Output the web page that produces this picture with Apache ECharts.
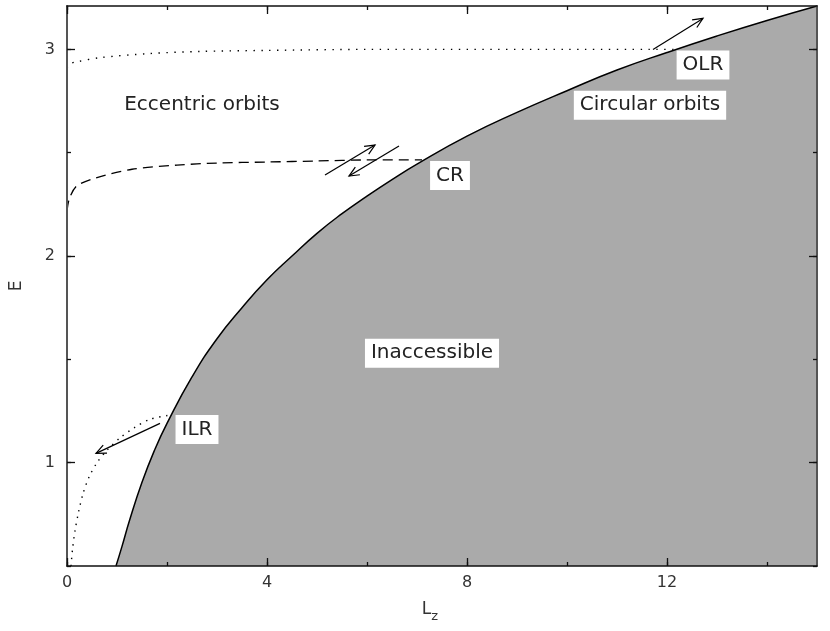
<!DOCTYPE html>
<html>
<head>
<meta charset="utf-8">
<script src="https://cdn.jsdelivr.net/npm/echarts@6/dist/echarts.min.js"></script>
<style>
html,body{margin:0;padding:0;background:#fff;}
#main{width:830px;height:631px;}
</style>
</head>
<body>
<div id="main"></div>
<script>
// circular-orbit curve E_c(Lz)
var circLz = [0.98, 1.1, 1.25, 1.5, 1.75, 2.0, 2.5, 3, 3.5, 4, 4.5, 5, 5.5, 6, 6.5, 7, 8, 9, 10, 11, 12, 13, 14, 15];
var circE  = [0.5, 0.595, 0.72, 0.905, 1.06, 1.19, 1.415, 1.6, 1.75, 1.885, 2.0, 2.11, 2.205, 2.29, 2.37, 2.445, 2.58, 2.695, 2.8, 2.9, 2.985, 3.065, 3.14, 3.21];

// resonance tracks
var ilrLz = [0.08, 0.11, 0.16, 0.23, 0.32, 0.44, 0.6, 0.8, 1.06, 1.35, 1.66, 2.06];
var ilrE  = [0.5, 0.58, 0.67, 0.76, 0.85, 0.93, 1.0, 1.06, 1.12, 1.17, 1.21, 1.23];
var crLz  = [0, 0.05, 0.2, 0.6, 1.3, 2.2, 3, 4, 5, 6, 7.1];
var crE   = [2.22, 2.28, 2.34, 2.38, 2.42, 2.44, 2.45, 2.455, 2.46, 2.465, 2.465];
var olrLz = [0, 0.05, 0.2, 0.66, 1.66, 2.66, 4, 6, 8, 10, 12.2];
var olrE  = [2.91, 2.93, 2.94, 2.96, 2.98, 2.99, 2.995, 3.0, 3.0, 3.0, 3.0];

// arrows: [Lz from, E from, Lz to, E to]
var arrows = [
  [1.86, 1.19, 0.58, 1.045],
  [5.16, 2.392, 6.16, 2.537],
  [6.64, 2.532, 5.64, 2.387],
  [11.72, 3.0, 12.72, 3.15]
];

// text labels
var labelNames = ['Eccentric orbits', 'Circular orbits', 'OLR', 'CR', 'ILR', 'Inaccessible'];
var labelLz    = [2.7, 11.66, 12.72, 7.66, 2.6, 7.3];
var labelE     = [2.73, 2.73, 2.925, 2.39, 1.16, 1.53];
var labelBox   = [false, true, true, true, true, true];

// ticks
var xTicks  = [0, 2, 4, 6, 8, 10, 12, 14];
var xLabels = [0, 4, 8, 12];
var yTicks  = [0.5, 1, 1.5, 2, 2.5, 3];
var yLabels = [1, 2, 3];

var xMin = 0, xMax = 15, yMin = 0.5, yMax = 3.21;
var FONT = 'DejaVu Sans';

function pairs(a, b) {
  var out = [];
  for (var i = 0; i < a.length; i++) out.push([a[i], b[i]]);
  return out;
}

function renderArrow(params, api) {
  var p1 = api.coord([api.value(0), api.value(1)]);
  var p2 = api.coord([api.value(2), api.value(3)]);
  var ang = Math.atan2(p2[1] - p1[1], p2[0] - p1[0]);
  var h = 11, a = 0.42;
  var l = [p2[0] - h * Math.cos(ang - a), p2[1] - h * Math.sin(ang - a)];
  var r = [p2[0] - h * Math.cos(ang + a), p2[1] - h * Math.sin(ang + a)];
  return {
    type: 'group',
    children: [
      {type: 'line', shape: {x1: p1[0], y1: p1[1], x2: p2[0], y2: p2[1]}, style: {stroke: '#000', lineWidth: 1.2}},
      {type: 'polyline', shape: {points: [l, p2, r]}, style: {stroke: '#000', fill: null, lineWidth: 1.2}}
    ]
  };
}

function xAx(pos, ticks, len, showLine, showLabel) {
  return {
    type: 'value', position: pos, min: xMin, max: xMax, gridIndex: 0, z: 10,
    splitLine: {show: false},
    axisLine: {show: showLine, onZero: false, lineStyle: {color: '#111', width: 1.5}},
    axisTick: {show: true, inside: true, length: len, customValues: ticks, lineStyle: {color: '#111', width: 1.3}},
    axisLabel: {show: showLabel, customValues: xLabels, margin: 9, color: '#333', fontSize: 16, fontFamily: FONT}
  };
}
function yAx(pos, ticks, len, showLine, showLabel) {
  return {
    type: 'value', position: pos, min: yMin, max: yMax, gridIndex: 0, z: 10,
    splitLine: {show: false},
    axisLine: {show: showLine, onZero: false, lineStyle: {color: '#555', width: 2}},
    axisTick: {show: true, inside: true, length: len, customValues: ticks, lineStyle: {color: '#111', width: 1.3}},
    axisLabel: {show: showLabel, customValues: yLabels, margin: 12, color: '#333', fontSize: 16, fontFamily: FONT}
  };
}

var xMain = xAx('bottom', xTicks, 4, true, true);
xMain.name = '{a|L}{s|z}';
xMain.nameLocation = 'middle';
xMain.nameGap = 30;
xMain.nameTextStyle = {
  padding: [0, 24, 0, 0],
  rich: {
    a: {fontSize: 17, fontFamily: FONT, color: '#333'},
    s: {fontSize: 13, fontFamily: FONT, color: '#333', padding: [14, 0, 0, 0]}
  }
};
var yMain = yAx('left', yTicks, 4, true, true);
yMain.name = 'E';
yMain.nameLocation = 'middle';
yMain.nameGap = 42;
yMain.nameTextStyle = {fontSize: 17, fontFamily: FONT, color: '#333'};

var labelData = [];
for (var i = 0; i < labelNames.length; i++) {
  labelData.push({
    name: labelNames[i],
    value: [labelLz[i], labelE[i]],
    label: {backgroundColor: labelBox[i] ? '#ffffff' : 'transparent'}
  });
}

var chart = echarts.init(document.getElementById('main'));
var option = {
  animation: false,
  backgroundColor: '#fff',
  grid: {left: 67, right: 13, top: 6, bottom: 65},
  xAxis: [
    xMain,
    xAx('bottom', xLabels, 8, false, false),
    xAx('top', xTicks, 4, true, false),
    xAx('top', xLabels, 8, false, false)
  ],
  yAxis: [
    yMain,
    yAx('left', yLabels, 8, false, false),
    yAx('right', yTicks, 4, true, false),
    yAx('right', yLabels, 8, false, false)
  ],
  series: [
    {
      name: 'circular', type: 'line', data: pairs(circLz, circE),
      smooth: 0.5, showSymbol: false, symbol: 'none',
      lineStyle: {color: '#000', width: 1.5},
      areaStyle: {color: '#aaaaaa', opacity: 1, origin: 'start'},
      z: 1
    },
    {
      name: 'ILR', type: 'line', data: pairs(ilrLz, ilrE),
      smooth: 0.3, showSymbol: false, symbol: 'none',
      lineStyle: {color: '#000', width: 1.4, type: [1.4, 5.5]}, z: 3
    },
    {
      name: 'CR', type: 'line', data: pairs(crLz, crE),
      smooth: 0.3, showSymbol: false, symbol: 'none',
      lineStyle: {color: '#000', width: 1.3, type: [10, 6]}, z: 3
    },
    {
      name: 'OLR', type: 'line', data: pairs(olrLz, olrE),
      smooth: 0.3, showSymbol: false, symbol: 'none',
      lineStyle: {color: '#000', width: 1.4, type: [1.4, 6.5]}, z: 3
    },
    {
      name: 'arrows', type: 'custom', renderItem: renderArrow, data: arrows,
      encode: {x: [0, 2], y: [1, 3]}, z: 4
    },
    {
      name: 'labels', type: 'scatter', data: labelData, symbolSize: 0, z: 5,
      itemStyle: {opacity: 1},
      emphasis: {disabled: true},
      label: {
        show: true, position: 'inside', formatter: '{b}',
        color: '#222', opacity: 1, fontSize: 20, fontFamily: FONT,
        padding: [5, 6, 4, 6]
      }
    }
  ]
};
chart.setOption(option);
</script>
</body>
</html>
